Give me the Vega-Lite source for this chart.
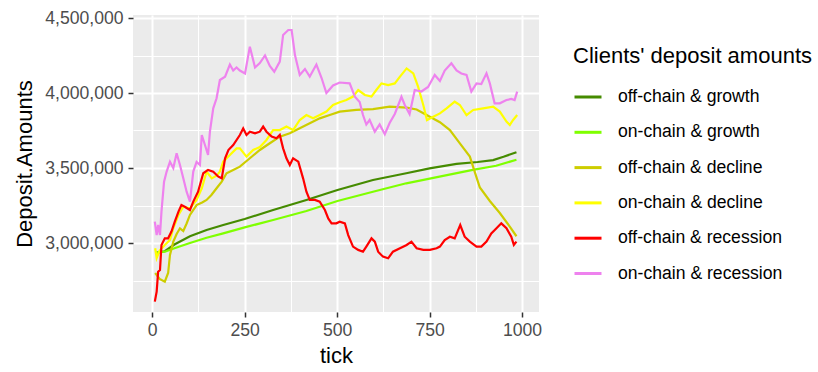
{
  "$schema": "https://vega.github.io/schema/vega-lite/v6.json",
  "width": 406,
  "height": 297,
  "autosize": "none",
  "padding": {"left": 133, "top": 15, "right": 279, "bottom": 60},
  "background": "white",
  "config": {
    "font": "Liberation Sans",
    "view": {"fill": "#EBEBEB", "stroke": null}
  },
  "data": {"values": [
    {"series":"off-chain & growth","tick":8,"value":2935000},{"series":"off-chain & growth","tick":34,"value":2945000},{"series":"off-chain & growth","tick":60,"value":2990000},{"series":"off-chain & growth","tick":102,"value":3045000},{"series":"off-chain & growth","tick":147,"value":3087000},{"series":"off-chain & growth","tick":192,"value":3120000},{"series":"off-chain & growth","tick":250,"value":3160000},{"series":"off-chain & growth","tick":327,"value":3220000},{"series":"off-chain & growth","tick":417,"value":3287000},{"series":"off-chain & growth","tick":501,"value":3353000},{"series":"off-chain & growth","tick":597,"value":3420000},{"series":"off-chain & growth","tick":687,"value":3465000},{"series":"off-chain & growth","tick":750,"value":3498000},{"series":"off-chain & growth","tick":823,"value":3527000},{"series":"off-chain & growth","tick":880,"value":3540000},{"series":"off-chain & growth","tick":922,"value":3553000},{"series":"off-chain & growth","tick":950,"value":3575000},{"series":"off-chain & growth","tick":985,"value":3605000},

    {"series":"on-chain & growth","tick":8,"value":2935000},{"series":"on-chain & growth","tick":34,"value":2942000},{"series":"on-chain & growth","tick":60,"value":2965000},{"series":"on-chain & growth","tick":102,"value":3000000},{"series":"on-chain & growth","tick":147,"value":3035000},{"series":"on-chain & growth","tick":192,"value":3064000},{"series":"on-chain & growth","tick":250,"value":3104000},{"series":"on-chain & growth","tick":327,"value":3153000},{"series":"on-chain & growth","tick":417,"value":3213000},{"series":"on-chain & growth","tick":501,"value":3280000},{"series":"on-chain & growth","tick":597,"value":3342000},{"series":"on-chain & growth","tick":687,"value":3398000},{"series":"on-chain & growth","tick":777,"value":3442000},{"series":"on-chain & growth","tick":867,"value":3487000},{"series":"on-chain & growth","tick":930,"value":3515000},{"series":"on-chain & growth","tick":985,"value":3555000},

    {"series":"off-chain & decline","tick":8,"value":2800000},{"series":"off-chain & decline","tick":20,"value":2760000},{"series":"off-chain & decline","tick":34,"value":2742000},{"series":"off-chain & decline","tick":43,"value":2800000},{"series":"off-chain & decline","tick":48,"value":2920000},{"series":"off-chain & decline","tick":57,"value":3009000},{"series":"off-chain & decline","tick":66,"value":3060000},{"series":"off-chain & decline","tick":75,"value":3098000},{"series":"off-chain & decline","tick":84,"value":3080000},{"series":"off-chain & decline","tick":93,"value":3130000},{"series":"off-chain & decline","tick":102,"value":3187000},{"series":"off-chain & decline","tick":120,"value":3253000},{"series":"off-chain & decline","tick":135,"value":3270000},{"series":"off-chain & decline","tick":147,"value":3287000},{"series":"off-chain & decline","tick":160,"value":3320000},{"series":"off-chain & decline","tick":174,"value":3365000},{"series":"off-chain & decline","tick":188,"value":3409000},{"series":"off-chain & decline","tick":201,"value":3465000},{"series":"off-chain & decline","tick":219,"value":3487000},{"series":"off-chain & decline","tick":237,"value":3509000},{"series":"off-chain & decline","tick":264,"value":3565000},{"series":"off-chain & decline","tick":291,"value":3620000},{"series":"off-chain & decline","tick":318,"value":3665000},{"series":"off-chain & decline","tick":345,"value":3709000},{"series":"off-chain & decline","tick":372,"value":3731000},{"series":"off-chain & decline","tick":399,"value":3765000},{"series":"off-chain & decline","tick":426,"value":3798000},{"series":"off-chain & decline","tick":453,"value":3831000},{"series":"off-chain & decline","tick":480,"value":3853000},{"series":"off-chain & decline","tick":507,"value":3876000},{"series":"off-chain & decline","tick":552,"value":3887000},{"series":"off-chain & decline","tick":597,"value":3893000},{"series":"off-chain & decline","tick":642,"value":3909000},{"series":"off-chain & decline","tick":688,"value":3902000},{"series":"off-chain & decline","tick":715,"value":3890000},{"series":"off-chain & decline","tick":742,"value":3853000},{"series":"off-chain & decline","tick":778,"value":3805000},{"series":"off-chain & decline","tick":805,"value":3753000},{"series":"off-chain & decline","tick":832,"value":3664000},{"series":"off-chain & decline","tick":859,"value":3576000},{"series":"off-chain & decline","tick":872,"value":3476000},{"series":"off-chain & decline","tick":886,"value":3370000},{"series":"off-chain & decline","tick":913,"value":3280000},{"series":"off-chain & decline","tick":940,"value":3200000},{"series":"off-chain & decline","tick":967,"value":3109000},{"series":"off-chain & decline","tick":985,"value":3045000},

    {"series":"on-chain & decline","tick":8,"value":2965000},{"series":"on-chain & decline","tick":12,"value":2900000},{"series":"on-chain & decline","tick":20,"value":2950000},{"series":"on-chain & decline","tick":34,"value":2987000},{"series":"on-chain & decline","tick":48,"value":3020000},{"series":"on-chain & decline","tick":57,"value":3098000},{"series":"on-chain & decline","tick":71,"value":3187000},{"series":"on-chain & decline","tick":84,"value":3242000},{"series":"on-chain & decline","tick":102,"value":3231000},{"series":"on-chain & decline","tick":120,"value":3287000},{"series":"on-chain & decline","tick":134,"value":3365000},{"series":"on-chain & decline","tick":147,"value":3476000},{"series":"on-chain & decline","tick":161,"value":3431000},{"series":"on-chain & decline","tick":175,"value":3450000},{"series":"on-chain & decline","tick":183,"value":3476000},{"series":"on-chain & decline","tick":192,"value":3542000},{"series":"on-chain & decline","tick":210,"value":3587000},{"series":"on-chain & decline","tick":228,"value":3631000},{"series":"on-chain & decline","tick":237,"value":3631000},{"series":"on-chain & decline","tick":255,"value":3576000},{"series":"on-chain & decline","tick":273,"value":3620000},{"series":"on-chain & decline","tick":291,"value":3640000},{"series":"on-chain & decline","tick":309,"value":3687000},{"series":"on-chain & decline","tick":327,"value":3753000},{"series":"on-chain & decline","tick":345,"value":3753000},{"series":"on-chain & decline","tick":363,"value":3776000},{"series":"on-chain & decline","tick":381,"value":3753000},{"series":"on-chain & decline","tick":399,"value":3820000},{"series":"on-chain & decline","tick":417,"value":3853000},{"series":"on-chain & decline","tick":435,"value":3831000},{"series":"on-chain & decline","tick":453,"value":3853000},{"series":"on-chain & decline","tick":471,"value":3876000},{"series":"on-chain & decline","tick":489,"value":3920000},{"series":"on-chain & decline","tick":507,"value":3938000},{"series":"on-chain & decline","tick":525,"value":3953000},{"series":"on-chain & decline","tick":543,"value":3976000},{"series":"on-chain & decline","tick":557,"value":4020000},{"series":"on-chain & decline","tick":575,"value":3987000},{"series":"on-chain & decline","tick":593,"value":3976000},{"series":"on-chain & decline","tick":606,"value":4020000},{"series":"on-chain & decline","tick":620,"value":4064000},{"series":"on-chain & decline","tick":638,"value":4053000},{"series":"on-chain & decline","tick":656,"value":4064000},{"series":"on-chain & decline","tick":670,"value":4109000},{"series":"on-chain & decline","tick":688,"value":4164000},{"series":"on-chain & decline","tick":706,"value":4131000},{"series":"on-chain & decline","tick":719,"value":4042000},{"series":"on-chain & decline","tick":733,"value":3920000},{"series":"on-chain & decline","tick":743,"value":3820000},{"series":"on-chain & decline","tick":760,"value":3842000},{"series":"on-chain & decline","tick":778,"value":3864000},{"series":"on-chain & decline","tick":796,"value":3898000},{"series":"on-chain & decline","tick":818,"value":3942000},{"series":"on-chain & decline","tick":832,"value":3920000},{"series":"on-chain & decline","tick":850,"value":3853000},{"series":"on-chain & decline","tick":868,"value":3887000},{"series":"on-chain & decline","tick":895,"value":3898000},{"series":"on-chain & decline","tick":922,"value":3909000},{"series":"on-chain & decline","tick":940,"value":3876000},{"series":"on-chain & decline","tick":958,"value":3809000},{"series":"on-chain & decline","tick":967,"value":3787000},{"series":"on-chain & decline","tick":976,"value":3820000},{"series":"on-chain & decline","tick":987,"value":3853000},

    {"series":"off-chain & recession","tick":7,"value":2609000},{"series":"off-chain & recession","tick":12,"value":2676000},{"series":"off-chain & recession","tick":16,"value":2809000},{"series":"off-chain & recession","tick":21,"value":2820000},{"series":"off-chain & recession","tick":25,"value":2987000},{"series":"off-chain & recession","tick":34,"value":3031000},{"series":"off-chain & recession","tick":43,"value":3031000},{"series":"off-chain & recession","tick":52,"value":3076000},{"series":"off-chain & recession","tick":61,"value":3142000},{"series":"off-chain & recession","tick":71,"value":3209000},{"series":"off-chain & recession","tick":79,"value":3253000},{"series":"off-chain & recession","tick":88,"value":3242000},{"series":"off-chain & recession","tick":102,"value":3220000},{"series":"off-chain & recession","tick":111,"value":3276000},{"series":"off-chain & recession","tick":124,"value":3342000},{"series":"off-chain & recession","tick":138,"value":3465000},{"series":"off-chain & recession","tick":151,"value":3487000},{"series":"off-chain & recession","tick":165,"value":3476000},{"series":"off-chain & recession","tick":179,"value":3442000},{"series":"off-chain & recession","tick":188,"value":3431000},{"series":"off-chain & recession","tick":197,"value":3565000},{"series":"off-chain & recession","tick":206,"value":3620000},{"series":"off-chain & recession","tick":219,"value":3653000},{"series":"off-chain & recession","tick":237,"value":3720000},{"series":"off-chain & recession","tick":246,"value":3764000},{"series":"off-chain & recession","tick":255,"value":3720000},{"series":"off-chain & recession","tick":264,"value":3742000},{"series":"off-chain & recession","tick":278,"value":3731000},{"series":"off-chain & recession","tick":291,"value":3742000},{"series":"off-chain & recession","tick":300,"value":3776000},{"series":"off-chain & recession","tick":309,"value":3742000},{"series":"off-chain & recession","tick":323,"value":3709000},{"series":"off-chain & recession","tick":336,"value":3698000},{"series":"off-chain & recession","tick":345,"value":3720000},{"series":"off-chain & recession","tick":354,"value":3631000},{"series":"off-chain & recession","tick":363,"value":3565000},{"series":"off-chain & recession","tick":372,"value":3520000},{"series":"off-chain & recession","tick":381,"value":3565000},{"series":"off-chain & recession","tick":395,"value":3542000},{"series":"off-chain & recession","tick":408,"value":3431000},{"series":"off-chain & recession","tick":417,"value":3342000},{"series":"off-chain & recession","tick":426,"value":3287000},{"series":"off-chain & recession","tick":440,"value":3287000},{"series":"off-chain & recession","tick":453,"value":3276000},{"series":"off-chain & recession","tick":467,"value":3220000},{"series":"off-chain & recession","tick":476,"value":3164000},{"series":"off-chain & recession","tick":485,"value":3131000},{"series":"off-chain & recession","tick":498,"value":3131000},{"series":"off-chain & recession","tick":507,"value":3142000},{"series":"off-chain & recession","tick":521,"value":3131000},{"series":"off-chain & recession","tick":530,"value":3053000},{"series":"off-chain & recession","tick":543,"value":2976000},{"series":"off-chain & recession","tick":557,"value":2954000},{"series":"off-chain & recession","tick":570,"value":2942000},{"series":"off-chain & recession","tick":579,"value":2976000},{"series":"off-chain & recession","tick":593,"value":3031000},{"series":"off-chain & recession","tick":602,"value":3009000},{"series":"off-chain & recession","tick":611,"value":2942000},{"series":"off-chain & recession","tick":624,"value":2909000},{"series":"off-chain & recession","tick":638,"value":2898000},{"series":"off-chain & recession","tick":651,"value":2942000},{"series":"off-chain & recession","tick":670,"value":2965000},{"series":"off-chain & recession","tick":688,"value":2987000},{"series":"off-chain & recession","tick":701,"value":3009000},{"series":"off-chain & recession","tick":715,"value":2965000},{"series":"off-chain & recession","tick":733,"value":2954000},{"series":"off-chain & recession","tick":751,"value":2954000},{"series":"off-chain & recession","tick":769,"value":2965000},{"series":"off-chain & recession","tick":778,"value":2976000},{"series":"off-chain & recession","tick":791,"value":3020000},{"series":"off-chain & recession","tick":805,"value":3042000},{"series":"off-chain & recession","tick":818,"value":3031000},{"series":"off-chain & recession","tick":833,"value":3120000},{"series":"off-chain & recession","tick":845,"value":3042000},{"series":"off-chain & recession","tick":859,"value":3009000},{"series":"off-chain & recession","tick":877,"value":2976000},{"series":"off-chain & recession","tick":890,"value":2976000},{"series":"off-chain & recession","tick":904,"value":3009000},{"series":"off-chain & recession","tick":917,"value":3064000},{"series":"off-chain & recession","tick":931,"value":3098000},{"series":"off-chain & recession","tick":944,"value":3131000},{"series":"off-chain & recession","tick":958,"value":3098000},{"series":"off-chain & recession","tick":971,"value":3042000},{"series":"off-chain & recession","tick":978,"value":2987000},{"series":"off-chain & recession","tick":985,"value":3009000},

    {"series":"on-chain & recession","tick":7,"value":3142000},{"series":"on-chain & recession","tick":12,"value":3053000},{"series":"on-chain & recession","tick":16,"value":3120000},{"series":"on-chain & recession","tick":21,"value":3053000},{"series":"on-chain & recession","tick":25,"value":3209000},{"series":"on-chain & recession","tick":32,"value":3409000},{"series":"on-chain & recession","tick":39,"value":3476000},{"series":"on-chain & recession","tick":48,"value":3542000},{"series":"on-chain & recession","tick":57,"value":3500000},{"series":"on-chain & recession","tick":66,"value":3598000},{"series":"on-chain & recession","tick":75,"value":3520000},{"series":"on-chain & recession","tick":84,"value":3431000},{"series":"on-chain & recession","tick":93,"value":3342000},{"series":"on-chain & recession","tick":102,"value":3276000},{"series":"on-chain & recession","tick":111,"value":3476000},{"series":"on-chain & recession","tick":120,"value":3540000},{"series":"on-chain & recession","tick":129,"value":3520000},{"series":"on-chain & recession","tick":134,"value":3720000},{"series":"on-chain & recession","tick":143,"value":3650000},{"series":"on-chain & recession","tick":151,"value":3587000},{"series":"on-chain & recession","tick":156,"value":3742000},{"series":"on-chain & recession","tick":165,"value":3898000},{"series":"on-chain & recession","tick":174,"value":3965000},{"series":"on-chain & recession","tick":183,"value":4087000},{"series":"on-chain & recession","tick":197,"value":4109000},{"series":"on-chain & recession","tick":210,"value":4190000},{"series":"on-chain & recession","tick":219,"value":4150000},{"series":"on-chain & recession","tick":228,"value":4170000},{"series":"on-chain & recession","tick":237,"value":4150000},{"series":"on-chain & recession","tick":251,"value":4130000},{"series":"on-chain & recession","tick":264,"value":4309000},{"series":"on-chain & recession","tick":278,"value":4170000},{"series":"on-chain & recession","tick":291,"value":4200000},{"series":"on-chain & recession","tick":305,"value":4250000},{"series":"on-chain & recession","tick":318,"value":4180000},{"series":"on-chain & recession","tick":330,"value":4142000},{"series":"on-chain & recession","tick":345,"value":4209000},{"series":"on-chain & recession","tick":354,"value":4387000},{"series":"on-chain & recession","tick":368,"value":4420000},{"series":"on-chain & recession","tick":377,"value":4420000},{"series":"on-chain & recession","tick":386,"value":4253000},{"series":"on-chain & recession","tick":399,"value":4120000},{"series":"on-chain & recession","tick":413,"value":4160000},{"series":"on-chain & recession","tick":426,"value":4110000},{"series":"on-chain & recession","tick":444,"value":4190000},{"series":"on-chain & recession","tick":458,"value":4100000},{"series":"on-chain & recession","tick":471,"value":4000000},{"series":"on-chain & recession","tick":489,"value":4050000},{"series":"on-chain & recession","tick":507,"value":4070000},{"series":"on-chain & recession","tick":534,"value":4064000},{"series":"on-chain & recession","tick":548,"value":3975000},{"series":"on-chain & recession","tick":561,"value":3940000},{"series":"on-chain & recession","tick":570,"value":3853000},{"series":"on-chain & recession","tick":579,"value":3790000},{"series":"on-chain & recession","tick":588,"value":3820000},{"series":"on-chain & recession","tick":602,"value":3742000},{"series":"on-chain & recession","tick":615,"value":3790000},{"series":"on-chain & recession","tick":629,"value":3725000},{"series":"on-chain & recession","tick":642,"value":3800000},{"series":"on-chain & recession","tick":656,"value":3860000},{"series":"on-chain & recession","tick":674,"value":3975000},{"series":"on-chain & recession","tick":683,"value":3920000},{"series":"on-chain & recession","tick":696,"value":3860000},{"series":"on-chain & recession","tick":710,"value":4020000},{"series":"on-chain & recession","tick":728,"value":4010000},{"series":"on-chain & recession","tick":746,"value":4040000},{"series":"on-chain & recession","tick":764,"value":4120000},{"series":"on-chain & recession","tick":778,"value":4080000},{"series":"on-chain & recession","tick":791,"value":4150000},{"series":"on-chain & recession","tick":809,"value":4198000},{"series":"on-chain & recession","tick":823,"value":4150000},{"series":"on-chain & recession","tick":836,"value":4130000},{"series":"on-chain & recession","tick":850,"value":4120000},{"series":"on-chain & recession","tick":863,"value":4010000},{"series":"on-chain & recession","tick":877,"value":4064000},{"series":"on-chain & recession","tick":890,"value":4060000},{"series":"on-chain & recession","tick":904,"value":4131000},{"series":"on-chain & recession","tick":913,"value":4064000},{"series":"on-chain & recession","tick":926,"value":3931000},{"series":"on-chain & recession","tick":940,"value":3931000},{"series":"on-chain & recession","tick":958,"value":3953000},{"series":"on-chain & recession","tick":971,"value":3960000},{"series":"on-chain & recession","tick":980,"value":3953000},{"series":"on-chain & recession","tick":987,"value":4009000}
  ]},
  "mark": {"type": "line", "strokeWidth": 2.2, "clip": true},
  "encoding": {
    "x": {
      "field": "tick", "type": "quantitative",
      "scale": {"domain": [-52, 1046], "nice": false, "zero": false},
      "axis": {
        "title": "tick", "titleFontSize": 22, "titleFontWeight": "normal", "titleColor": "black", "titlePadding": 7,
        "values": [0, 125, 250, 375, 500, 625, 750, 875, 1000],
        "labelExpr": "datum.value % 250 === 0 ? format(datum.value, 'd') : ''",
        "labelFontSize": 17.6, "labelColor": "#4D4D4D", "labelPadding": 4, "labelFlush": false,
        "tickSize": 5, "tickWidth": 1.5, "tickColor": {"condition": {"test": "datum.value % 250 === 0", "value": "#333333"}, "value": "transparent"},
        "domain": false,
        "grid": true, "gridColor": "white",
        "gridWidth": {"condition": {"test": "datum.value % 250 === 0", "value": 2}, "value": 1}
      }
    },
    "y": {
      "field": "value", "type": "quantitative",
      "scale": {"domain": [2540000, 4520000], "nice": false, "zero": false},
      "axis": {
        "title": "Deposit.Amounts", "titleFontSize": 22, "titleFontWeight": "normal", "titleColor": "black", "titlePadding": 8,
        "values": [2750000, 3000000, 3250000, 3500000, 3750000, 4000000, 4250000, 4500000],
        "labelExpr": "datum.value % 500000 === 0 ? format(datum.value, ',') : ''",
        "labelFontSize": 17.6, "labelColor": "#4D4D4D", "labelPadding": 5,
        "tickSize": 5, "tickWidth": 1.5, "tickColor": {"condition": {"test": "datum.value % 500000 === 0", "value": "#333333"}, "value": "transparent"},
        "domain": false,
        "grid": true, "gridColor": "white",
        "gridWidth": {"condition": {"test": "datum.value % 500000 === 0", "value": 2}, "value": 1}
      }
    },
    "color": {
      "field": "series", "type": "nominal",
      "scale": {
        "domain": ["off-chain & growth", "on-chain & growth", "off-chain & decline", "on-chain & decline", "off-chain & recession", "on-chain & recession"],
        "range": ["#458B00", "#7FFF00", "#CDCD00", "#FFFF00", "#FF0000", "#EE82EE"]
      },
      "legend": {
        "title": "Clients' deposit amounts",
        "orient": "none", "legendX": 440, "legendY": 31,
        "titleFontSize": 22, "titleFontWeight": "normal", "titleColor": "black", "titlePadding": 14, "titleLimit": 0,
        "labelFontSize": 17.6, "labelColor": "black", "labelOffset": 15, "labelLimit": 0,
        "symbolType": "stroke", "symbolSize": 729, "symbolStrokeWidth": 3,
        "rowPadding": 11.3, "padding": 0
      }
    }
  }
}
